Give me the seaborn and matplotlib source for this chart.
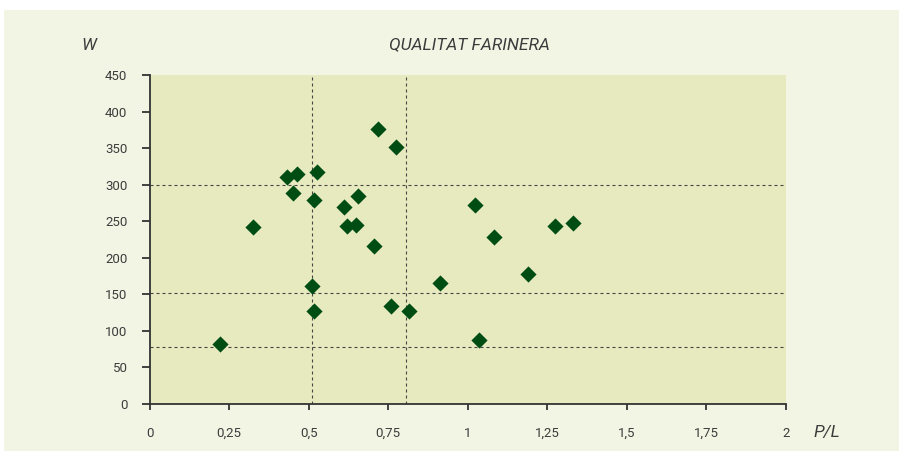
import matplotlib
matplotlib.use("Agg")
import matplotlib.pyplot as plt
from matplotlib.patches import Rectangle
import seaborn as sns
import pandas as pd


# P/L and W values
pl = [0.222, 0.326, 0.432, 0.462, 0.449, 0.527, 0.515, 0.510, 0.515,
      0.718, 0.775, 0.611, 0.656, 0.621, 0.649, 0.705, 0.758, 0.815,
      0.912, 1.021, 1.034, 1.083, 1.188, 1.273, 1.329]
w = [82, 242, 310, 315, 288, 317, 279, 162, 127,
     376, 352, 270, 284, 244, 245, 216, 134, 127,
     166, 272, 88, 228, 178, 244, 248]

# reference lines
w_limits = [300, 152, 78]
pl_limits = [0.51, 0.805]

x_ticks = [0, 0.25, 0.5, 0.75, 1, 1.25, 1.5, 1.75, 2]
x_labels = ["0", "0,25", "0,5", "0,75", "1", "1,25", "1,5", "1,75", "2"]
y_ticks = [0, 50, 100, 150, 200, 250, 300, 350, 400, 450]

PANEL = "#f3f5e4"
PLOT_BG = "#e7eabf"
MARKER = "#004d14"
TEXT = "#3c3c3c"


def main():
    sns.set_style("white")
    plt.rcParams['font.family'] = ['Roboto', 'DejaVu Sans']

    fig = plt.figure(figsize=(8.99, 4.51), dpi=100)
    fig.patch.set_facecolor("white")
    panel = Rectangle((4 / 899, 0), 1 - 4 / 899, 1 - 10 / 451,
                      transform=fig.transFigure, facecolor=PANEL,
                      edgecolor="none", zorder=-5)
    fig.add_artist(panel)

    ax = fig.add_axes([149.7 / 899, 47 / 451, 636.3 / 899, 329 / 451])
    ax.set_zorder(2)
    ax.set_facecolor(PLOT_BG)

    for v in w_limits:
        ax.axhline(v, color="#444444", lw=0.8, ls=(0, (2.7, 2.7)), zorder=1)
    for v in pl_limits:
        ax.axvline(v, color="#444444", lw=0.8, ls=(0, (2.7, 2.7)), zorder=1)

    df = pd.DataFrame({"PL": pl, "W": w})
    sns.scatterplot(data=df, x="PL", y="W", marker="D", s=68,
                    color=MARKER, linewidth=0, ax=ax, zorder=3)

    ax.set_xlim(0, 2)
    ax.set_ylim(0, 450)
    ax.set_xticks(x_ticks)
    ax.set_xticklabels(x_labels)
    ax.set_yticks(y_ticks)
    ax.set_xlabel("")
    ax.set_ylabel("")

    for side in ["top", "right"]:
        ax.spines[side].set_visible(False)
    for side in ["left", "bottom"]:
        ax.spines[side].set_color("#333333")
        ax.spines[side].set_linewidth(1.3)
        ax.spines[side].set_zorder(4)

    ax.tick_params(axis="x", bottom=True, direction="out", length=4.5,
                   width=1.3, color="#333333", pad=12, labelsize=9.5,
                   labelcolor=TEXT)
    ax.tick_params(axis="y", left=True, direction="out", length=6,
                   width=1.3, color="#333333", pad=10, labelsize=9.5,
                   labelcolor=TEXT)

    fig.text(469 / 899, 1 - 45 / 451, "QUALITAT FARINERA", ha="center",
             va="center", style="italic", fontsize=12.5, color=TEXT)
    fig.text(89 / 899, 1 - 45 / 451, "W", ha="center", va="center",
             style="italic", fontsize=12.5, color=TEXT)
    fig.text(827 / 899, 1 - 433 / 451, "P/L", ha="center", va="center",
             style="italic", fontsize=12.5, color=TEXT)

    fig.savefig("out.png", dpi=100, facecolor=fig.get_facecolor())
    plt.close(fig)


if __name__ == "__main__":
    main()
